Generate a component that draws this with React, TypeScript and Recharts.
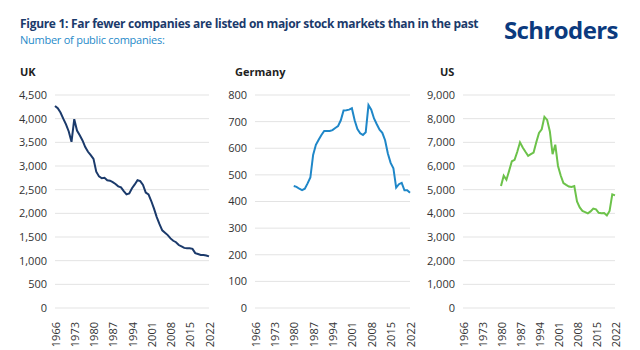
import { LineChart, Line, XAxis, YAxis, CartesianGrid } from "recharts"

// years on the x axis
const yearTicks = [1966, 1973, 1980, 1987, 1994, 2001, 2008, 2015, 2022]

const ukYears = [
  1966, 1967, 1968, 1969, 1970, 1971, 1972, 1973, 1974, 1975, 1976, 1977, 1978, 1979,
  1980, 1981, 1982, 1983, 1984, 1985, 1986, 1987, 1988, 1989, 1990, 1991, 1992, 1993,
  1994, 1995, 1996, 1997, 1998, 1999, 2000, 2001, 2002, 2003, 2004, 2005, 2006, 2007,
  2008, 2009, 2010, 2011, 2012, 2013, 2014, 2015, 2016, 2017, 2018, 2019, 2020, 2021, 2022,
]
const ukValues = [
  4270, 4220, 4130, 4000, 3880, 3730, 3510, 3990, 3750, 3650, 3540, 3400, 3300, 3230,
  3150, 2880, 2780, 2740, 2750, 2700, 2690, 2660, 2620, 2570, 2550, 2470, 2400, 2420,
  2530, 2610, 2700, 2680, 2600, 2440, 2400, 2260, 2100, 1920, 1770, 1640, 1590, 1540,
  1470, 1420, 1390, 1330, 1300, 1270, 1260, 1260, 1250, 1160, 1140, 1120, 1120, 1110, 1090,
]

const deYears = [
  1980, 1981, 1982, 1983, 1984, 1985, 1986, 1987, 1988, 1989, 1990, 1991, 1992, 1993,
  1994, 1995, 1996, 1997, 1998, 1999, 2000, 2001, 2002, 2003, 2004, 2005, 2006, 2007,
  2008, 2009, 2010, 2011, 2012, 2013, 2014, 2015, 2016, 2017, 2018, 2019, 2020, 2021, 2022,
]
const deValues = [
  458, 455, 448, 443, 448, 468, 490, 575, 613, 632, 650, 665, 665, 665,
  668, 676, 683, 705, 742, 743, 745, 750, 705, 672, 656, 650, 660, 762,
  745, 712, 690, 670, 658, 630, 580, 545, 525, 452, 465, 470, 442, 442, 433,
]

const usYears = deYears
const usValues = [
  5150, 5590, 5420, 5800, 6200, 6260, 6600, 7000, 6780, 6600, 6430, 6500, 6570, 7000,
  7400, 7550, 8080, 7950, 7460, 6500, 6900, 6000, 5600, 5280, 5200, 5130, 5110, 5150,
  4500, 4250, 4100, 4050, 4000, 4080, 4200, 4170, 4020, 4000, 4010, 3910, 4100, 4800, 4760,
]

const ukTicks = [0, 500, 1000, 1500, 2000, 2500, 3000, 3500, 4000, 4500]
const deTicks = [0, 100, 200, 300, 400, 500, 600, 700, 800]
const usTicks = [0, 1000, 2000, 3000, 4000, 5000, 6000, 7000, 8000, 9000]

const FONT = "'Open Sans', sans-serif"
const NAVY = "#1b3a6b"

const toRows = (years: number[], values: number[]) =>
  years.map((year, i) => ({ year, value: values[i] }))

const YearTick = (props: any) => {
  const { x, y, payload } = props
  return (
    <text
      transform={`translate(${x},${y + 6}) rotate(-90)`}
      textAnchor="end"
      dominantBaseline="central"
      fontSize={11}
      fill="#333"
      fontFamily={FONT}
    >
      {payload.value}
    </text>
  )
}

type PanelProps = {
  title: string
  left: number
  width: number
  axisWidth: number
  years: number[]
  values: number[]
  ticks: number[]
  color: string
}

function Panel({ title, left, width, axisWidth, years, values, ticks, color }: PanelProps) {
  const data = toRows(years, values)
  return (
    <div style={{ position: "absolute", left, top: 0 }}>
      <div
        style={{
          position: "absolute",
          left: 20,
          top: 64,
          fontSize: 11,
          fontWeight: 700,
          color: "#222",
          whiteSpace: "nowrap",
        }}
      >
        {title}
      </div>
      <div style={{ position: "absolute", left: 0, top: 85 }}>
        <LineChart
          width={width}
          height={263}
          data={data}
          margin={{ top: 10, right: 6, bottom: 0, left: 0 }}
        >
          <CartesianGrid vertical={false} stroke="#e3e3e3" />
          <XAxis
            dataKey="year"
            type="number"
            domain={[1966, 2022]}
            ticks={yearTicks}
            interval={0}
            axisLine={false}
            tickLine={false}
            height={40}
            tick={<YearTick />}
          />
          <YAxis
            domain={[ticks[0], ticks[ticks.length - 1]]}
            ticks={ticks}
            width={axisWidth}
            axisLine={false}
            tickLine={false}
            tick={{ fontSize: 11, fill: "#333", fontFamily: FONT }}
            tickFormatter={(v: number) => v.toLocaleString("en-US")}
          />
          <Line
            type="linear"
            dataKey="value"
            stroke={color}
            strokeWidth={2}
            dot={false}
            isAnimationActive={false}
          />
        </LineChart>
      </div>
    </div>
  )
}

export default function App() {
  return (
    <div
      style={{
        position: "absolute",
        left: 0,
        top: 0,
        width: 640,
        height: 350,
        background: "#fff",
        fontFamily: FONT,
        overflow: "hidden",
      }}
    >
      <div
        style={{
          position: "absolute",
          left: 20,
          top: 15,
          fontSize: 12,
          fontWeight: 700,
          color: NAVY,
          letterSpacing: -0.3,
          whiteSpace: "nowrap",
        }}
      >
        Figure 1: Far fewer companies are listed on major stock markets than in the past
      </div>
      <div
        style={{
          position: "absolute",
          left: 20,
          top: 32,
          fontSize: 11,
          color: "#1f8ac9",
          letterSpacing: -0.25,
          whiteSpace: "nowrap",
        }}
      >
        Number of public companies:
      </div>
      <div
        style={{
          position: "absolute",
          left: 504,
          top: 13,
          fontSize: 24,
          fontWeight: 700,
          color: "#0b3a7e",
          letterSpacing: -0.6,
          whiteSpace: "nowrap",
        }}
      >
        Schroders
      </div>

      <Panel title="UK" left={0} width={215} axisWidth={55} years={ukYears} values={ukValues} ticks={ukTicks} color={NAVY} />
      <Panel title="Germany" left={215} width={201} axisWidth={40} years={deYears} values={deValues} ticks={deTicks} color="#1f87c8" />
      <Panel title="US" left={420} width={201} axisWidth={43} years={usYears} values={usValues} ticks={usTicks} color="#6cc24a" />
    </div>
  )
}
